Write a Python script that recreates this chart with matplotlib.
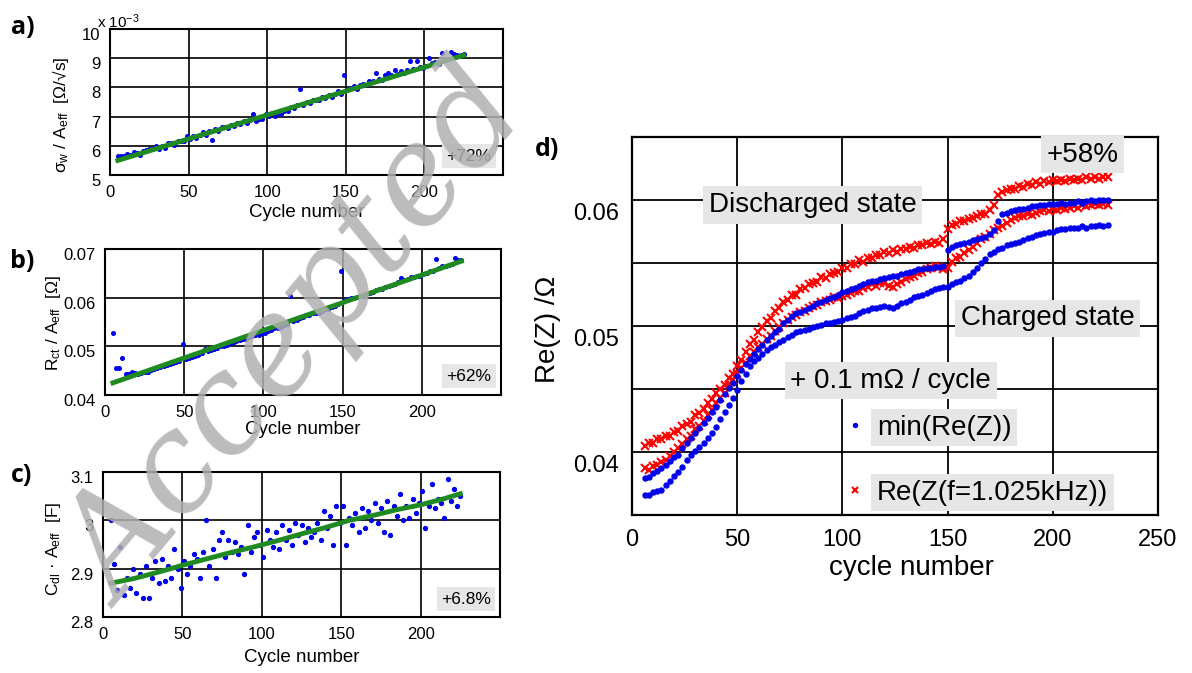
import numpy as np
import matplotlib
matplotlib.use('Agg')
import matplotlib.pyplot as plt
from matplotlib import transforms

plt.rcParams['font.family'] = ['Liberation Sans', 'DejaVu Sans']
plt.rcParams['mathtext.fontset'] = 'custom'
plt.rcParams['mathtext.rm'] = 'Liberation Sans'
plt.rcParams['mathtext.it'] = 'Liberation Sans:italic'
plt.rcParams['mathtext.bf'] = 'Liberation Sans:bold'

# ---------------- data ----------------
cycles_abc = np.arange(5, 226, 2)          # cycle numbers of panels a-c
cycles_d = np.arange(6, 227, 2)            # cycle numbers of panel d

# a) sigma_w / A_eff  (x 1e-3 Ohm/sqrt(s))
sigma_w = [5.65, 5.65, 5.65, 5.72, 5.68, 5.78, 5.76, 5.68, 5.81, 5.86,
           5.88, 5.88, 6.01, 5.90, 5.99, 5.93, 6.08, 6.08, 6.04, 6.17,
           6.17, 6.15, 6.32, 6.23, 6.33, 6.27, 6.38, 6.46, 6.38, 6.50,
           6.20, 6.56, 6.49, 6.63, 6.63, 6.62, 6.72, 6.68, 6.77, 6.73,
           6.84, 6.78, 6.90, 7.09, 6.86, 6.93, 6.91, 7.08, 7.01, 7.14,
           7.02, 7.12, 7.10, 7.18, 7.19, 7.32, 7.30, 7.40, 7.95, 7.40,
           7.51, 7.46, 7.58, 7.58, 7.56, 7.68, 7.63, 7.74, 7.68, 7.79,
           7.86, 7.79, 8.41, 7.92, 7.98, 8.04, 7.96, 8.08, 8.10, 8.07,
           8.22, 8.22, 8.49, 8.30, 8.27, 8.41, 8.50, 8.41, 8.60, 8.45,
           8.57, 8.50, 8.60, 8.90, 8.63, 8.91, 8.69, 8.65, 8.74, 9.02,
           8.82, 8.86, 8.80, 9.18, 8.95, 8.96, 9.22, 9.13, 9.10, 9.12, 9.13]
fit_a_x = [5, 225]
fit_a_y = [5.50, 9.10]

# b) R_ct / A_eff  (mOhm)
r_ct = [52.8, 45.5, 45.45, 47.6, 44.3, 44.3, 44.8, 44.5, 44.4, 44.55,
        44.7, 44.8, 45.1, 45.25, 45.6, 45.7, 45.9, 46.15, 46.3, 46.6,
        46.75, 46.95, 50.5, 47.3, 47.65, 47.8, 48.1, 48.25, 48.55, 49.4,
        49.0, 49.15, 49.45, 49.6, 50.0, 50.15, 50.3, 50.6, 50.75, 51.05,
        51.2, 51.5, 51.55, 51.85, 52.2, 52.25, 52.35, 52.7, 52.8, 53.25,
        53.35, 53.7, 53.8, 54.05, 54.35, 54.5, 60.3, 55.15, 55.5, 55.8,
        55.95, 56.35, 56.4, 56.9, 56.85, 56.95, 57.3, 57.6, 57.75, 58.1,
        58.2, 58.65, 65.5, 59.4, 59.7, 59.85, 59.9, 60.2, 60.25, 60.55,
        60.7, 61.0, 61.15, 61.55, 61.7, 61.8, 62.15, 62.3, 62.6, 62.75,
        63.15, 64.1, 63.6, 63.85, 64.15, 64.3, 64.4, 64.55, 64.85, 65.1,
        65.4, 65.45, 68.0, 66.1, 66.45, 66.55, 66.7, 67.0, 68.05, 67.65, 67.8]
fit_b_x = [5, 225]
fit_b_y = [42.5, 67.5]

# c) C_dl * A_eff  (F)
c_dl = [3.000, 2.910, 2.855, 2.945, 2.845, 2.880, 2.860, 2.900, 2.850, 2.890,
        2.840, 2.905, 2.840, 2.880, 2.915, 2.870, 2.920, 2.875, 2.905, 2.880,
        2.940, 2.900, 2.860, 2.915, 2.890, 2.905, 2.930, 2.920, 2.880, 2.935,
        3.000, 2.905, 2.940, 2.880, 2.960, 2.975, 2.925, 2.960, 2.935, 2.955,
        2.930, 2.945, 2.890, 2.990, 2.935, 2.965, 2.975, 2.950, 2.925, 2.980,
        2.960, 2.945, 2.975, 2.940, 2.990, 2.960, 2.980, 2.950, 2.995, 2.970,
        2.990, 2.955, 2.985, 2.965, 2.975, 2.995, 2.960, 3.020, 2.985, 3.010,
        2.950, 3.030, 2.995, 3.030, 2.950, 3.005, 2.990, 3.015, 2.975, 3.025,
        2.985, 3.020, 3.000, 3.035, 2.995, 3.025, 2.975, 3.040, 2.970, 3.030,
        3.010, 3.055, 3.000, 3.030, 3.005, 3.045, 3.015, 3.035, 3.060, 2.985,
        3.030, 3.075, 3.025, 3.045, 3.035, 3.005, 3.085, 3.040, 3.065, 3.030, 3.050]
fit_c_x = [5, 20, 35, 50, 65, 80, 95, 110, 125, 140, 155, 170, 185, 200, 215, 225]
fit_c_y = [2.870, 2.880, 2.893, 2.907, 2.920, 2.933, 2.945, 2.958, 2.972, 2.985,
           3.000, 3.010, 3.022, 3.032, 3.045, 3.055]

# d) Re(Z) in mOhm
red_discharged = [40.5, 40.7, 40.7, 41.0, 41.0, 41.3, 41.3, 41.6, 41.7, 42.1,
                  42.2, 42.4, 42.9, 43.1, 43.4, 43.9, 44.2, 44.7, 45.0, 45.3,
                  45.9, 46.2, 46.8, 47.3, 47.9, 48.6, 48.9, 49.5, 49.9, 50.4,
                  50.6, 51.2, 51.4, 51.9, 52.1, 52.5, 52.5, 52.9, 53.0, 53.3,
                  53.4, 53.5, 53.9, 53.8, 54.1, 54.2, 54.3, 54.6, 54.6, 54.9,
                  54.9, 55.2, 55.1, 55.4, 55.4, 55.6, 55.6, 55.9, 55.8, 56.0,
                  55.9, 56.1, 56.1, 56.3, 56.2, 56.4, 56.4, 56.6, 56.5, 56.7,
                  56.6, 56.9, 57.7, 58.0, 58.1, 58.3, 58.3, 58.5, 58.6, 58.7,
                  58.9, 58.9, 59.2, 59.6, 60.4, 60.6, 60.8, 60.9, 60.9, 61.1,
                  61.0, 61.3, 61.2, 61.4, 61.3, 61.5, 61.4, 61.6, 61.5, 61.6,
                  61.5, 61.7, 61.6, 61.7, 61.6, 61.8, 61.7, 61.8, 61.7, 61.8, 61.8]
red_charged = [38.7, 38.6, 38.9, 39.0, 39.2, 39.4, 39.7, 40.0, 40.3, 40.6,
               41.0, 41.3, 41.8, 42.1, 42.5, 42.9, 43.3, 43.9, 44.3, 44.7,
               45.3, 45.7, 46.2, 46.7, 47.1, 47.6, 47.9, 48.3, 48.6, 49.0,
               49.2, 49.6, 49.9, 50.2, 50.5, 50.7, 50.9, 51.1, 51.2, 51.4,
               51.6, 51.7, 51.9, 52.0, 52.1, 52.3, 52.2, 52.4, 52.5, 52.6,
               52.8, 52.8, 53.0, 53.1, 53.3, 53.2, 53.4, 53.4, 53.2, 53.1,
               53.3, 53.5, 53.7, 53.9, 54.0, 54.2, 54.3, 54.5, 54.6, 54.8,
               54.7, 54.5, 54.6, 55.1, 55.4, 55.5, 55.8, 56.0, 56.3, 56.6,
               56.9, 57.1, 57.3, 57.6, 57.8, 57.9, 58.2, 58.4, 58.6, 58.7,
               58.7, 58.9, 58.8, 59.0, 59.1, 59.2, 59.1, 59.3, 59.2, 59.4,
               59.3, 59.4, 59.5, 59.4, 59.6, 59.5, 59.6, 59.7, 59.6, 59.7, 59.6]
blue_discharged = [37.9, 38.0, 38.3, 38.5, 38.7, 39.0, 39.3, 39.6, 39.8, 40.3,
                   40.7, 41.1, 41.5, 41.9, 42.3, 42.7, 43.2, 43.6, 44.1, 44.6,
                   45.1, 45.5, 46.0, 46.5, 47.0, 47.4, 47.8, 48.2, 48.5, 48.9,
                   49.2, 49.5, 49.8, 50.2, 50.5, 50.8, 51.0, 51.1, 51.3, 51.4,
                   51.6, 51.8, 51.9, 52.1, 52.2, 52.3, 52.5, 52.7, 52.8, 52.9,
                   53.0, 53.2, 53.3, 53.5, 53.6, 53.6, 53.7, 53.8, 53.9, 54.0,
                   54.0, 54.1, 54.2, 54.3, 54.4, 54.5, 54.5, 54.6, 54.6, 54.7,
                   54.7, 54.8, 56.0, 56.3, 56.4, 56.5, 56.6, 56.7, 56.8, 56.9,
                   57.0, 57.1, 57.3, 57.6, 58.3, 58.9, 59.0, 59.1, 59.2, 59.3,
                   59.3, 59.4, 59.5, 59.5, 59.6, 59.6, 59.7, 59.7, 59.7, 59.8,
                   59.7, 59.8, 59.8, 59.9, 59.8, 59.9, 60.0, 59.9, 60.0, 60.0, 60.0]
blue_charged = [36.6, 36.6, 36.8, 36.9, 37.0, 37.4, 37.7, 38.1, 38.4, 38.8,
                39.4, 39.8, 40.1, 40.4, 40.7, 41.1, 41.5, 42.0, 42.6, 43.2,
                43.7, 44.3, 44.9, 45.6, 46.2, 46.8, 47.2, 47.5, 47.8, 48.1,
                48.3, 48.5, 48.7, 48.9, 49.1, 49.3, 49.5, 49.6, 49.7, 49.8,
                49.9, 50.0, 50.1, 50.2, 50.2, 50.3, 50.4, 50.5, 50.6, 50.7,
                50.8, 51.0, 51.2, 51.3, 51.4, 51.4, 51.5, 51.6, 51.5, 51.4,
                51.6, 51.8, 51.9, 52.1, 52.3, 52.4, 52.5, 52.6, 52.8, 52.9,
                53.0, 53.1, 53.1, 53.3, 53.5, 53.6, 53.8, 54.0, 54.3, 54.6,
                55.0, 55.3, 55.7, 55.9, 56.1, 56.2, 56.4, 56.5, 56.6, 56.7,
                56.8, 57.0, 57.1, 57.2, 57.3, 57.4, 57.5, 57.5, 57.6, 57.7,
                57.7, 57.8, 57.8, 57.8, 57.9, 57.8, 57.9, 57.9, 58.0, 57.9, 58.0]

x_ticks_abc = [0, 50, 100, 150, 200]
a_yticks = [5, 6, 7, 8, 9, 10]
b_yticks = [0.04, 0.05, 0.06, 0.07]
b_yticklabels = ['0.04', '0.05', '0.06', '0.07']
c_yticks = [2.8, 2.9, 3.0, 3.1]
c_yticklabels = ['2.8', '2.9', '3', '3.1']
d_xticks = [0, 50, 100, 150, 200, 250]
d_yticks = [0.04, 0.045, 0.05, 0.055, 0.06]
d_yticklabels = ['0.04', '', '0.05', '', '0.06']

BLUE = '#0000ee'
RED = '#ff0000'
GREEN = '#1f8a1f'
BOXC = '#e6e6e6'

W, H = 1192, 673
fig = plt.figure(figsize=(W / 100, H / 100), dpi=100)


def rect(l, r, t, b):
    return [l / W, 1 - b / H, (r - l) / W, (b - t) / H]


def shift_yticklabels(ax, px):
    off = transforms.ScaledTranslation(0, -px / 100, fig.dpi_scale_trans)
    for tk in ax.yaxis.get_major_ticks():
        tk.label1.set_transform(tk.label1.get_transform() + off)


def small_panel(ax):
    ax.set_xlim(0, 250)
    ax.set_xticks(x_ticks_abc)
    ax.grid(True, color='black', lw=1.2)
    ax.set_axisbelow(True)
    for s in ax.spines.values():
        s.set_linewidth(1.5)
    ax.tick_params(length=0, labelsize=12, pad=7)
    ax.set_xlabel('Cycle number', fontsize=13.5)


# ---- panel a
axa = fig.add_axes(rect(110, 503, 29, 175))
small_panel(axa)
axa.plot(cycles_abc, sigma_w, ls='none', marker='o', ms=2.6, color=BLUE, zorder=3)
axa.plot(fit_a_x, fit_a_y, color=GREEN, lw=3.5, zorder=4)
axa.set_ylim(5, 10)
axa.set_yticks(a_yticks)
axa.set_ylabel('σ$_\\mathrm{w}$ / A$_\\mathrm{eff}$  [Ω/√s]', fontsize=12.5)
axa.xaxis.set_label_coords(0.5, -0.2)
axa.yaxis.set_label_coords(-0.1, 0.41)
axa.text(0.913, 0.13, '+72%', transform=axa.transAxes, ha='center', va='center',
         fontsize=12.5, bbox=dict(boxstyle='square,pad=0.25', fc=BOXC, ec='none'), zorder=6)
fig.text(118 / W, 1 - 22 / H, 'x 10$^{-3}$', ha='center', va='center', fontsize=11)
shift_yticklabels(axa, 5)

# ---- panel b
axb = fig.add_axes(rect(105, 501, 249, 395))
small_panel(axb)
axb.plot(cycles_abc, np.asarray(r_ct) * 1e-3, ls='none', marker='o', ms=2.6, color=BLUE, zorder=3)
axb.plot(fit_b_x, np.asarray(fit_b_y) * 1e-3, color=GREEN, lw=3.5, zorder=4)
axb.set_ylim(0.04, 0.07)
axb.set_yticks(b_yticks)
axb.set_yticklabels(b_yticklabels)
axb.set_ylabel('R$_\\mathrm{ct}$ / A$_\\mathrm{eff}$  [Ω]', fontsize=12.5)
axb.xaxis.set_label_coords(0.5, -0.18)
axb.yaxis.set_label_coords(-0.105, 0.49)
axb.text(0.919, 0.13, '+62%', transform=axb.transAxes, ha='center', va='center',
         fontsize=12.5, bbox=dict(boxstyle='square,pad=0.25', fc=BOXC, ec='none'), zorder=6)
shift_yticklabels(axb, 5)

# ---- panel c
axc = fig.add_axes(rect(103, 500, 472, 617))
small_panel(axc)
axc.plot(cycles_abc, c_dl, ls='none', marker='o', ms=2.8, color=BLUE, zorder=3)
axc.plot(fit_c_x, fit_c_y, color=GREEN, lw=3.5, zorder=4)
axc.set_ylim(2.8, 3.1)
axc.set_yticks(c_yticks)
axc.set_yticklabels(c_yticklabels)
axc.set_ylabel('C$_\\mathrm{dl}$ · A$_\\mathrm{eff}$  [F]', fontsize=12.5)
axc.xaxis.set_label_coords(0.5, -0.22)
axc.yaxis.set_label_coords(-0.1, 0.47)
axc.text(0.914, 0.124, '+6.8%', transform=axc.transAxes, ha='center', va='center',
         fontsize=12.5, bbox=dict(boxstyle='square,pad=0.25', fc=BOXC, ec='none'), zorder=6)
shift_yticklabels(axc, 5)

# ---- panel d
axd = fig.add_axes(rect(632, 1158, 137, 515))
axd.set_xlim(0, 250)
axd.set_ylim(0.035, 0.065)
axd.set_xticks(d_xticks)
axd.set_yticks(d_yticks)
axd.set_yticklabels(d_yticklabels)
axd.grid(True, color='black', lw=1.3)
axd.set_axisbelow(True)
for s in axd.spines.values():
    s.set_linewidth(1.6)
axd.tick_params(length=0, labelsize=17, pad=10)
axd.tick_params(axis='y', pad=9)

hr, = axd.plot(cycles_d, np.asarray(red_discharged) * 1e-3, ls='none', marker='x',
               ms=5.5, mew=1.5, color=RED, zorder=3)
axd.plot(cycles_d, np.asarray(red_charged) * 1e-3, ls='none', marker='x',
         ms=5.5, mew=1.5, color=RED, zorder=3)
hb, = axd.plot(cycles_d, np.asarray(blue_discharged) * 1e-3, ls='none', marker='o',
               ms=3.6, color=BLUE, zorder=4)
axd.plot(cycles_d, np.asarray(blue_charged) * 1e-3, ls='none', marker='o',
         ms=3.6, color=BLUE, zorder=4)

axd.set_xlabel('cycle number', fontsize=20)
axd.set_ylabel('Re(Z) /Ω', fontsize=20)
axd.xaxis.set_label_coords(0.532, -0.105)
axd.yaxis.set_label_coords(-0.135, 0.49)

box = dict(boxstyle='square,pad=0.2', fc=BOXC, ec='none')
axd.text(0.343, 0.82, 'Discharged state', transform=axd.transAxes, ha='center',
         va='center', fontsize=20, bbox=box, zorder=6)
axd.text(0.79, 0.52, 'Charged state', transform=axd.transAxes, ha='center',
         va='center', fontsize=20, bbox=box, zorder=6)
axd.text(0.492, 0.355, '+ 0.1 mΩ / cycle', transform=axd.transAxes, ha='center',
         va='center', fontsize=20, bbox=box, zorder=6)
axd.text(0.857, 0.953, '+58%', transform=axd.transAxes, ha='center',
         va='center', fontsize=20, bbox=box, zorder=6)

leg = axd.legend([hb, hr], ['min(Re(Z))', 'Re(Z(f=1.025kHz))'], loc='upper left',
                 bbox_to_anchor=(0.405, 0.265), frameon=False, fontsize=20,
                 handlelength=0.7, handletextpad=0.45, labelspacing=1.4,
                 borderaxespad=0, borderpad=0, markerscale=0.8)
for t in leg.get_texts():
    t.set_bbox(dict(boxstyle='square,pad=0.2', fc=BOXC, ec='none'))
leg.set_zorder(7)
shift_yticklabels(axd, 11)

# panel letters
for lab, (x, y) in zip(['a)', 'b)', 'c)', 'd)'], [(23, 28), (22, 262), (22, 476), (547, 149)]):
    fig.text(x / W, 1 - y / H, lab, ha='center', va='center', fontsize=18,
             fontweight='bold', family=['Open Sans', 'DejaVu Sans'])

# watermark of the source document
fig.text(300 / W, 1 - 340 / H, 'Accepted', rotation=50, ha='center', va='center',
         fontsize=98, color='#b0b0b0', alpha=0.85, family=['DejaVu Serif'],
         style='italic', zorder=20)

fig.savefig('out.png', dpi=100)
